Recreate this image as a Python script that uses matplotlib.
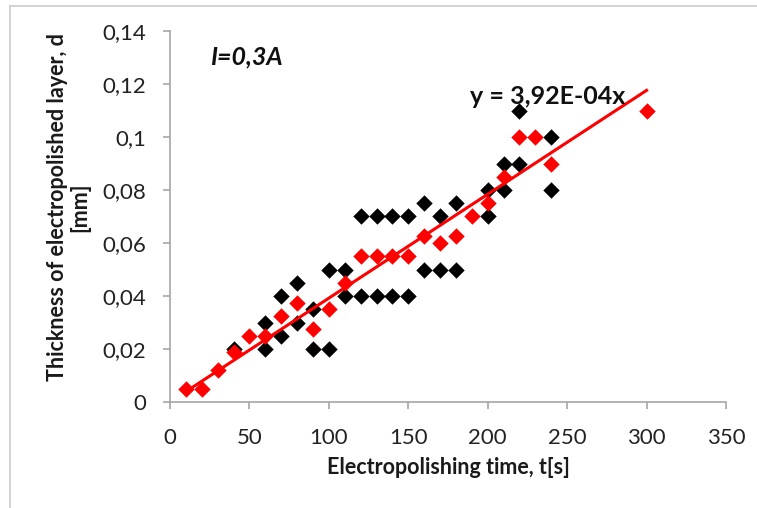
import matplotlib
matplotlib.use("Agg")
import matplotlib.pyplot as plt
from matplotlib.ticker import FuncFormatter
from matplotlib.lines import Line2D

plt.rcParams['font.family'] = ['Lato', 'DejaVu Sans']

# Scatter data: electropolishing time [s] vs. removed layer thickness [mm]
black_t = [40, 60, 60, 70, 70, 80, 80, 90, 90, 100, 100, 110, 110,
           120, 120, 130, 130, 140, 140, 150, 150, 160, 160, 170, 170,
           180, 180, 200, 200, 210, 210, 220, 220, 240, 240]
black_d = [0.020, 0.030, 0.020, 0.040, 0.025, 0.045, 0.030, 0.035, 0.020,
           0.050, 0.020, 0.050, 0.040, 0.070, 0.040, 0.070, 0.040, 0.070,
           0.040, 0.070, 0.040, 0.075, 0.050, 0.070, 0.050, 0.075, 0.050,
           0.080, 0.070, 0.090, 0.080, 0.110, 0.090, 0.100, 0.080]

red_t = [10, 20, 30, 40, 50, 60, 70, 80, 90, 100, 110, 120, 130, 140,
         150, 160, 170, 180, 190, 200, 210, 220, 230, 240, 300]
red_d = [0.005, 0.005, 0.012, 0.019, 0.025, 0.025, 0.0325, 0.0375, 0.0275,
         0.035, 0.045, 0.055, 0.055, 0.055, 0.055, 0.0625, 0.060, 0.0625,
         0.070, 0.075, 0.085, 0.100, 0.100, 0.090, 0.110]

# Linear trend through the origin
slope = 3.92e-4
trend_label = "y = 3,92E-04x"
current_label = "I=0,3A"

x_ticks = [0, 50, 100, 150, 200, 250, 300, 350]
y_ticks = [0, 0.02, 0.04, 0.06, 0.08, 0.10, 0.12, 0.14]

W, H = 757, 508
fig = plt.figure(figsize=(W / 100, H / 100), dpi=100)
ax = fig.add_axes([170 / W, 1 - 402 / H, 556 / W, (402 - 31) / H])

ax.scatter(black_t, black_d, marker='D', s=70, color='black', zorder=3, linewidths=0)
ax.scatter(red_t, red_d, marker='D', s=70, color='#ff0000', zorder=4, linewidths=0)

t_line = [min(red_t), max(red_t)]
ax.plot(t_line, [slope * t for t in t_line], color='#ff0000', lw=2.2, zorder=5)

ax.set_xlim(0, 350)
ax.set_ylim(0, 0.14)
ax.set_xticks(x_ticks)
ax.set_yticks(y_ticks)
ax.xaxis.set_major_formatter(FuncFormatter(lambda v, p: f"{v:g}"))
ax.yaxis.set_major_formatter(
    FuncFormatter(lambda v, p: f"{v:.2f}".rstrip('0').rstrip('.').replace('.', ',')))

for side in ('top', 'right'):
    ax.spines[side].set_visible(False)
for side in ('left', 'bottom'):
    ax.spines[side].set_color('#a6a6a6')
    ax.spines[side].set_linewidth(1.2)
ax.tick_params(axis='both', direction='out', length=5, width=1.2, color='#a6a6a6',
               labelsize=16, labelcolor='#222222')
ax.tick_params(axis='y', pad=12)
ax.tick_params(axis='x', pad=14)

fig.text(448 / W, 1 - 468 / H, "Electropolishing time, t[s]", ha='center', va='center',
         fontsize=15.5, fontweight='bold', color='#1a1a1a')
fig.text(68.5 / W, 1 - 207 / H, "Thickness of electropolished layer, d\n[mm]",
         rotation=90, ha='center', va='center', multialignment='center',
         fontsize=15.5, fontweight='bold', color='#1a1a1a', linespacing=1.1)

fig.text(210 / W, 1 - 57 / H, current_label, fontsize=18,
         fontweight='bold', fontstyle='italic', ha='left', va='center', color='#111111')
fig.text(470 / W, 1 - 97 / H, trend_label, fontsize=18, fontweight='bold',
         ha='left', va='center', color='#111111')

# Chart-area outline (left and top edges)
fig.add_artist(Line2D([10 / W, 10 / W], [0, 1 - 6 / H], transform=fig.transFigure,
                      color='#cccccc', lw=1.2))
fig.add_artist(Line2D([10 / W, 1], [1 - 6 / H, 1 - 6 / H], transform=fig.transFigure,
                      color='#cccccc', lw=1.2))

fig.savefig("out.png", dpi=100)
